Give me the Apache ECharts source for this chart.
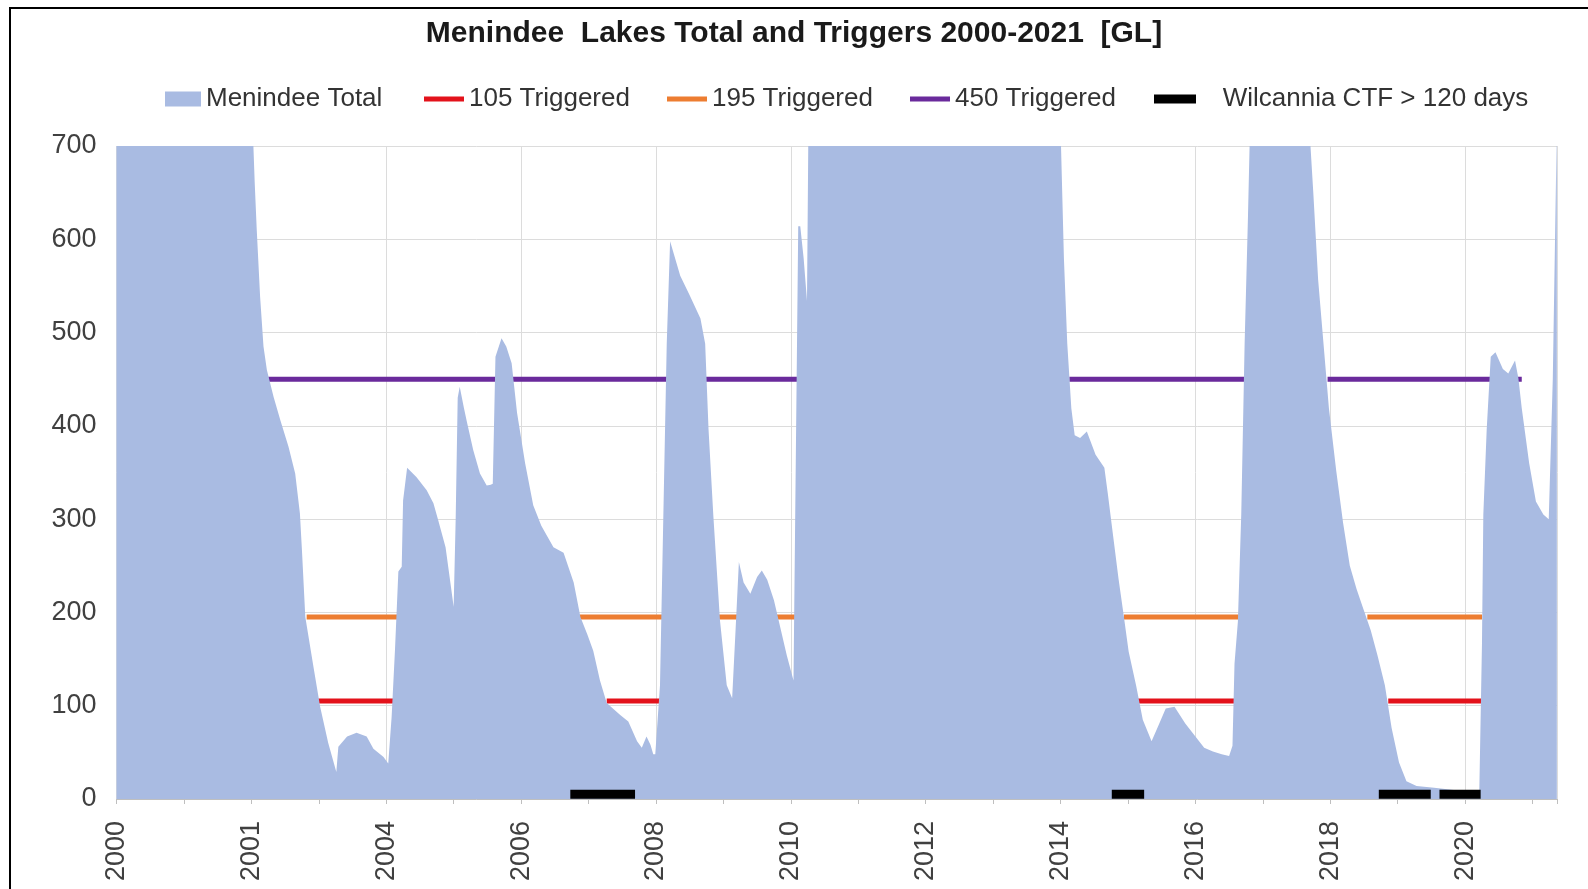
<!DOCTYPE html>
<html>
<head>
<meta charset="utf-8">
<title>Menindee Lakes Total and Triggers</title>
<script src="https://cdn.jsdelivr.net/npm/echarts@6/dist/echarts.min.js"></script>
<style>
  html, body { margin: 0; padding: 0; background: #fff; }
  #chart { width: 1588px; height: 889px; }
</style>
</head>
<body>
<div id="chart"></div>
<script>
// Menindee Lakes combined storage (GL), by decimal year
const storageYears = [
  2000.00, 2000.50, 2001.00, 2001.50, 2001.90, 2002.02, 2002.05, 2002.08, 2002.13, 2002.18,
  2002.23, 2002.33, 2002.43, 2002.55, 2002.65, 2002.72, 2002.75, 2002.80, 2002.92, 2003.02,
  2003.14, 2003.26, 2003.29, 2003.42, 2003.56, 2003.71, 2003.81, 2003.96, 2004.03, 2004.08,
  2004.13, 2004.18, 2004.23, 2004.25, 2004.31, 2004.45, 2004.60, 2004.70, 2004.77, 2004.88,
  2005.00, 2005.03, 2005.06, 2005.09, 2005.15, 2005.20, 2005.29, 2005.39, 2005.49, 2005.55,
  2005.58, 2005.62, 2005.71, 2005.78, 2005.86, 2005.94, 2006.06, 2006.18, 2006.30, 2006.48,
  2006.63, 2006.78, 2006.88, 2006.98, 2007.07, 2007.17, 2007.27, 2007.47, 2007.59, 2007.72,
  2007.79, 2007.86, 2007.92, 2007.96, 2007.99, 2008.06, 2008.11, 2008.16, 2008.21, 2008.36,
  2008.50, 2008.66, 2008.73, 2008.78, 2008.85, 2008.95, 2009.05, 2009.13, 2009.18, 2009.23,
  2009.30, 2009.40, 2009.50, 2009.57, 2009.65, 2009.75, 2009.94, 2010.04, 2010.11, 2010.14,
  2010.19, 2010.24, 2010.27, 2010.40, 2010.60, 2011.00, 2012.00, 2013.00, 2013.70, 2014.00,
  2014.05, 2014.10, 2014.16, 2014.21, 2014.29, 2014.39, 2014.52, 2014.65, 2014.70, 2014.78,
  2014.86, 2014.94, 2015.01, 2015.12, 2015.22, 2015.35, 2015.46, 2015.56, 2015.69, 2015.85,
  2016.00, 2016.13, 2016.26, 2016.39, 2016.50, 2016.55, 2016.58, 2016.63, 2016.68, 2016.73,
  2016.78, 2016.81, 2017.00, 2017.30, 2017.60, 2017.69, 2017.75, 2017.82, 2017.90, 2017.98,
  2018.09, 2018.19, 2018.29, 2018.39, 2018.49, 2018.60, 2018.70, 2018.81, 2018.91, 2019.02,
  2019.13, 2019.28, 2019.54, 2019.80, 2020.17, 2020.21, 2020.25, 2020.27, 2020.32, 2020.38,
  2020.45, 2020.56, 2020.64, 2020.74, 2020.79, 2020.84, 2020.95, 2021.05, 2021.16, 2021.24,
  2021.30, 2021.36
];
const storageGL = [
  1650, 1600, 1450, 1150, 850, 720, 660, 610, 538, 485,
  460, 431, 406, 378, 349, 306, 267, 195, 142, 99,
  60, 29, 56, 67, 71, 67, 54, 45, 38, 88,
  160, 244, 249, 320, 355, 345, 331, 317, 299, 270,
  206, 300, 430, 442, 420, 403, 374, 349, 336, 337,
  338, 474, 494, 485, 467, 414, 360, 315, 293, 270,
  264, 232, 195, 177, 159, 127, 103, 90, 83, 62,
  55, 67, 58, 48, 48, 122, 305, 488, 598, 561,
  540, 515, 488, 396, 305, 191, 122, 108, 180, 254,
  232, 220, 238, 245, 235, 213, 154, 127, 614, 614,
  580, 534, 800, 1100, 1400, 1600, 1700, 1300, 950, 720,
  580, 488, 419, 390, 387, 394, 369, 355, 328, 282,
  236, 195, 158, 122, 85, 62, 80, 97, 99, 81,
  67, 55, 51, 48, 46, 57, 145, 190, 305, 488,
  625, 720, 1000, 1150, 850, 720, 648, 557, 488, 419,
  351, 296, 250, 225, 204, 181, 154, 122, 76, 39,
  19, 14, 12, 10, 7, 7, 167, 305, 396, 474,
  479, 461, 456, 470, 451, 419, 360, 319, 305, 300,
  450, 720
];

// Periods (start, end year) during which each storage trigger applied
const trigger105Periods = [[2002.99, 2004.18], [2007.27, 2008.06], [2015.14, 2016.58], [2018.86, 2020.25]];
const trigger195Periods = [[2002.82, 2004.18], [2006.87, 2010.08], [2014.94, 2016.68], [2018.55, 2020.25]];
const trigger450Periods = [[2002.25, 2010.14], [2014.13, 2016.78], [2017.96, 2020.84]];
// Wilcannia cease-to-flow spells longer than 120 days
const wilcanniaCtfPeriods = [[2006.73, 2007.69], [2014.76, 2015.24], [2018.72, 2019.49], [2019.62, 2020.23]];
const wilcanniaMarkLevel = 5;

// Axis ticks and their labels
const yearTicks = [2000, 2002, 2004, 2006, 2008, 2010, 2012, 2014, 2016, 2018, 2020];
const yearLabels = ['2000', '2001', '2004', '2006', '2008', '2010', '2012', '2014', '2016', '2018', '2020'];

const seriesNames = ['Menindee Total', '105 Triggered', '195 Triggered', '450 Triggered', 'Wilcannia CTF > 120 days'];

function periodsToLine(periods, level) {
  const pts = [];
  periods.forEach(function (p, i) {
    if (i > 0) pts.push([p[0], '-']);
    pts.push([p[0], level]);
    pts.push([p[1], level]);
  });
  return pts;
}

const storageData = storageYears.map(function (y, i) { return [y, storageGL[i]]; });

const FONT = "'Liberation Sans', Arial, sans-serif";
const TEXT = '#333333';

function legendFor(name, left, width, icon, extra) {
  return Object.assign({
    data: [name],
    left: left,
    top: 81,
    itemWidth: width,
    itemHeight: 15,
    icon: icon,
    selectedMode: false,
    textStyle: { fontFamily: FONT, fontSize: 26, color: TEXT }
  }, extra || {});
}

const chart = echarts.init(document.getElementById('chart'), null, { renderer: 'canvas' });

chart.setOption({
  backgroundColor: '#ffffff',
  animation: false,
  title: {
    text: 'Menindee  Lakes Total and Triggers 2000-2021  [GL]',
    left: 'center',
    top: 14,
    textStyle: { fontFamily: FONT, fontSize: 30, fontWeight: 'bold', color: '#1a1a1a' }
  },
  legend: [
    legendFor(seriesNames[0], 160, 36, 'rect'),
    legendFor(seriesNames[1], 419, 40, 'path://M0 0H40V5H0Z'),
    legendFor(seriesNames[2], 662, 40, 'path://M0 0H40V5H0Z'),
    legendFor(seriesNames[3], 905, 40, 'path://M0 0H40V5H0Z'),
    legendFor(seriesNames[4], 1149, 42, 'path://M0 0H42V9H0Z', {
      formatter: function (n) { return '   ' + n; }
    })
  ],
  graphic: [{
    type: 'rect',
    z: 100,
    silent: true,
    shape: { x: 10, y: 8, width: 1620, height: 920 },
    style: { fill: 'none', stroke: '#000000', lineWidth: 2 }
  }],
  grid: { left: 116.5, right: 30.5, top: 146, bottom: 90, containLabel: false },
  xAxis: {
    type: 'value',
    min: 2000,
    max: 2021.37,
    interval: 2,
    axisLine: { show: true, onZero: false, lineStyle: { color: '#bfbfbf', width: 1 } },
    axisTick: { show: true, length: 5, lineStyle: { color: '#bfbfbf' } },
    minorTick: { show: true, splitNumber: 2, length: 5, lineStyle: { color: '#bfbfbf' } },
    splitLine: { show: true, lineStyle: { color: '#dcdcdc', width: 1 } },
    axisLabel: {
      rotate: 90,
      margin: 22,
      fontFamily: FONT,
      fontSize: 27,
      color: '#404040',
      showMaxLabel: false,
      formatter: function (v) {
        const i = yearTicks.indexOf(Math.round(v * 1000) / 1000);
        return i < 0 ? '' : yearLabels[i];
      }
    }
  },
  yAxis: {
    type: 'value',
    min: 0,
    max: 700,
    interval: 100,
    axisLine: { show: false },
    axisTick: { show: false },
    splitLine: { show: true, lineStyle: { color: '#dcdcdc', width: 1 } },
    axisLabel: { margin: 20, fontFamily: FONT, fontSize: 27, color: '#404040' }
  },
  series: [
    {
      name: seriesNames[0],
      type: 'line',
      z: 3,
      data: storageData,
      showSymbol: false,
      symbol: 'none',
      color: '#a9bbe2',
      lineStyle: { width: 0, color: '#a9bbe2' },
      itemStyle: { color: '#a9bbe2' },
      areaStyle: { color: '#a9bbe2', opacity: 1 },
      silent: true
    },
    {
      name: seriesNames[1],
      type: 'line',
      z: 2,
      data: periodsToLine(trigger105Periods, 105),
      symbol: 'none',
      connectNulls: false,
      color: '#e3121b',
      lineStyle: { width: 5, color: '#e3121b', cap: 'butt' },
      itemStyle: { color: '#e3121b' },
      silent: true
    },
    {
      name: seriesNames[2],
      type: 'line',
      z: 2,
      data: periodsToLine(trigger195Periods, 195),
      symbol: 'none',
      connectNulls: false,
      color: '#ed7d31',
      lineStyle: { width: 5, color: '#ed7d31', cap: 'butt' },
      itemStyle: { color: '#ed7d31' },
      silent: true
    },
    {
      name: seriesNames[3],
      type: 'line',
      z: 2,
      data: periodsToLine(trigger450Periods, 450),
      symbol: 'none',
      connectNulls: false,
      color: '#6a2a9c',
      lineStyle: { width: 5, color: '#6a2a9c', cap: 'butt' },
      itemStyle: { color: '#6a2a9c' },
      silent: true
    },
    {
      name: seriesNames[4],
      type: 'line',
      z: 4,
      data: periodsToLine(wilcanniaCtfPeriods, wilcanniaMarkLevel),
      symbol: 'none',
      connectNulls: false,
      clip: false,
      color: '#000000',
      lineStyle: { width: 9, color: '#000000', cap: 'butt' },
      itemStyle: { color: '#000000' },
      silent: true
    }
  ]
});
</script>
</body>
</html>
